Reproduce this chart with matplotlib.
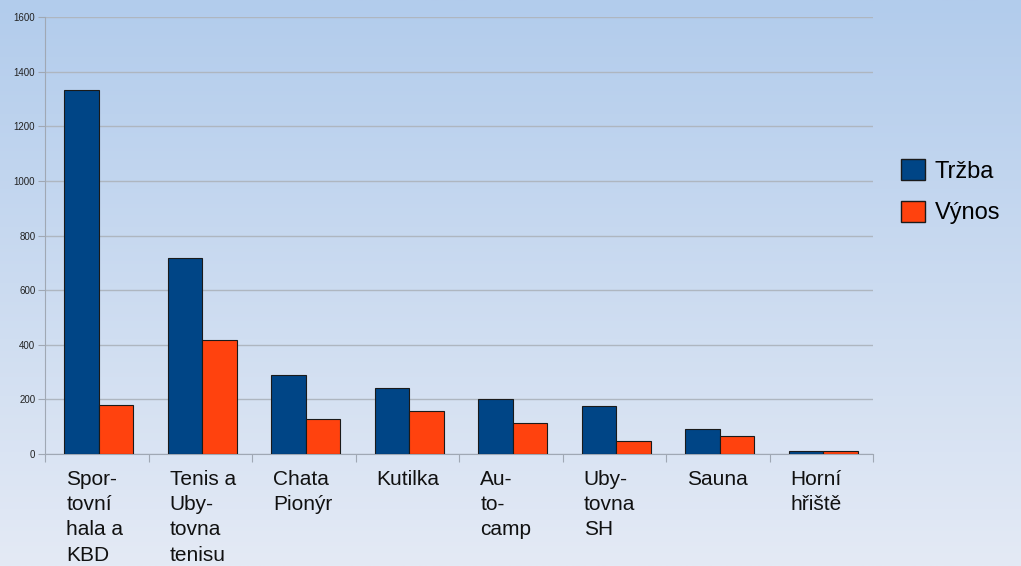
import numpy as np
import matplotlib.pyplot as plt
from matplotlib.patches import Patch

categories = ["Spor-\ntovní\nhala a\nKBD", "Tenis a\nUby-\ntovna\ntenisu", "Chata\nPionýr",
              "Kutilka", "Au-\nto-\ncamp", "Uby-\ntovna\nSH", "Sauna", "Horní\nhřiště"]
trzba = [1333, 718, 289, 242, 201, 176, 92, 10]
vynos = [179, 418, 128, 157, 113, 48, 66, 10]

plt.rcParams['font.family'] = ['Liberation Sans', 'DejaVu Sans']

fig = plt.figure(figsize=(10.21, 5.66), dpi=100)

# gradient background
bg = fig.add_axes([0, 0, 1, 1], zorder=-10)
top = np.array([178, 204, 236]) / 255
bot = np.array([228, 234, 245]) / 255
t = np.linspace(0, 1, 256)[:, None]
grad = top * (1 - t) + bot * t
bg.imshow(grad[:, None, :].repeat(2, axis=1), aspect='auto', extent=[0, 1, 0, 1])
bg.axis('off')

ax = fig.add_axes([45 / 1021, 1 - 454 / 566, 828 / 1021, 437 / 566])
ax.set_facecolor('none')

x = np.arange(len(categories)) + 0.02
w = 0.335
ax.bar(x - w / 2, trzba, w, color='#004586', edgecolor='#1a1a1a', linewidth=0.8, label='Tržba', zorder=3)
ax.bar(x + w / 2, vynos, w, color='#ff420e', edgecolor='#1a1a1a', linewidth=0.8, label='Výnos', zorder=3)

ax.set_xlim(-0.5, len(categories) - 0.5)
ax.set_ylim(0, 1600)
ax.set_yticks(range(0, 1601, 200))
ax.tick_params(axis='y', labelsize=7, length=5, color='#a0a8b4', colors='#222222', pad=2)
ax.set_xticks(np.arange(len(categories) + 1) - 0.5)
ax.set_xticklabels([])
ax.tick_params(axis='x', length=6, color='#a0a8b4')
ax.grid(axis='y', color='#aeb6c0', linewidth=1, zorder=0)
for s in ['top', 'right']:
    ax.spines[s].set_visible(False)
ax.spines['left'].set_color('#a0a8b4')
ax.spines['bottom'].set_color('#a0a8b4')

for i, lab in enumerate(categories):
    ax.text(x[i] - w + 0.02, -0.036, lab, transform=ax.get_xaxis_transform(), ha='left', va='top',
            fontsize=15, linespacing=1.42, color='#111111')

handles = [Patch(facecolor='#004586', edgecolor='#1a1a1a', label='Tržba'),
           Patch(facecolor='#ff420e', edgecolor='#1a1a1a', label='Výnos')]
fig.legend(handles=handles, loc='center left', bbox_to_anchor=(0.862, 0.661), frameon=False,
           fontsize=17, handlelength=1.0, handleheight=1.0, handletextpad=0.4, labelspacing=0.75)

fig.savefig('out.png', dpi=100)
